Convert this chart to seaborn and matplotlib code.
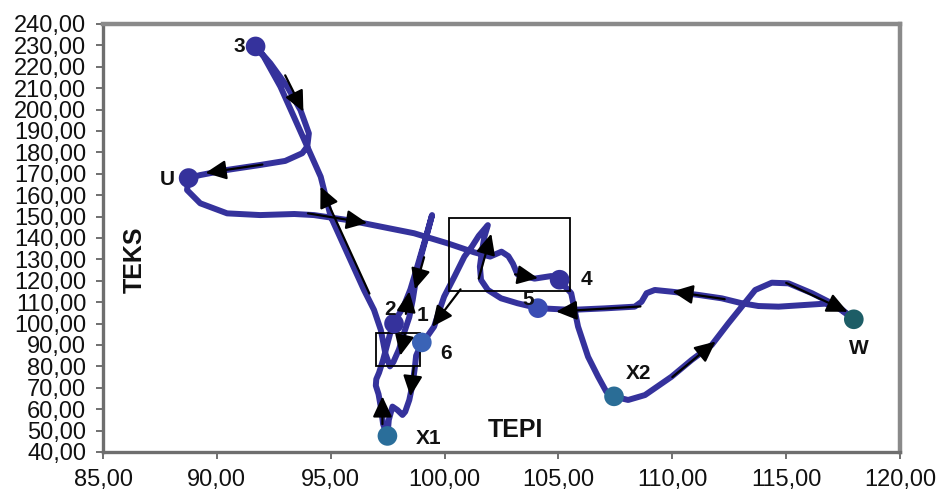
import matplotlib
matplotlib.use("Agg")
import matplotlib.pyplot as plt
import numpy as np
import pandas as pd
import seaborn as sns
from matplotlib.patches import Rectangle
from matplotlib.ticker import FuncFormatter

# ---------------- data ----------------
# trajectory, in time order (closed loop starting at X1)
path_tepi = [97.49, 97.30, 97.20, 97.10, 96.98, 97.00, 97.12, 97.30, 97.45, 97.60, 97.75,
             98.20, 98.50, 98.80, 99.10, 99.30, 99.45,
             99.20, 98.96, 98.74, 98.60, 98.45, 98.20, 98.00, 97.75, 97.60,
             97.40, 97.20, 96.90, 96.46, 95.73, 95.00, 94.56, 93.97, 93.38, 92.79, 92.06, 91.70,
             92.35, 93.09, 93.67, 94.04, 93.97, 93.75, 93.00, 91.90, 90.45, 89.27, 88.76,
             88.69, 89.27, 90.45, 91.90, 93.40, 94.26, 95.73, 97.20, 98.66, 100.13, 101.30,
             102.00, 102.50, 102.80, 103.00, 103.20, 103.95, 104.68, 105.05,
             105.56, 105.86, 106.30, 106.74, 107.10, 107.44,
             108.06, 108.80, 109.97, 110.85, 111.73, 112.46, 113.05, 113.64, 114.37, 115.10,
             116.13, 117.00, 117.97,
             117.30, 116.70, 115.80, 114.67, 113.78, 113.05, 112.17, 111.14, 109.97, 109.23,
             108.87, 108.65, 108.35, 107.03, 105.56, 104.10,
             103.20, 102.48, 101.90, 101.60, 101.55, 101.65, 101.75, 101.90,
             101.50, 101.20, 100.87, 100.43, 99.98, 99.75, 99.54, 99.18, 99.00,
             98.75, 98.70, 98.60, 98.45, 98.27, 98.15, 97.93, 97.71, 97.55, 97.49]
path_teks = [47.5, 53.0, 61.0, 67.0, 71.0, 74.0, 77.0, 83.0, 89.0, 95.0, 100.0,
             108.0, 116.0, 126.6, 137.5, 145.0, 150.7,
             140.6, 131.3, 120.4, 111.0, 103.0, 95.0, 88.0, 82.0, 80.0,
             86.0, 97.0, 106.4, 115.7, 132.8, 150.0, 168.6, 182.7, 196.7, 210.7, 224.7, 229.5,
             221.6, 210.7, 199.8, 188.9, 182.7, 179.6, 176.0, 174.1, 171.8, 169.4, 168.0,
             162.4, 156.2, 151.5, 150.7, 151.2, 150.7, 148.4, 145.3, 142.2, 137.5, 133.3,
             131.3, 133.6, 131.5, 128.0, 123.0, 121.0, 122.2, 120.0,
             114.2, 98.6, 84.5, 75.2, 68.2, 65.9,
             64.3, 66.6, 75.2, 83.0, 90.0, 100.1, 107.9, 115.7, 119.1, 118.8,
             114.2, 109.5, 102.0,
             107.9, 109.3, 108.7, 107.9, 108.2, 109.5, 111.8, 113.4, 114.9, 115.7,
             114.2, 110.2, 107.9, 107.1, 106.4, 107.2,
             109.5, 111.8, 115.7, 120.4, 126.6, 134.4, 140.6, 146.0,
             141.0, 136.0, 131.3, 121.9, 112.6, 105.5, 98.6, 93.1, 91.0,
             85.0, 80.0, 72.0, 64.3, 58.8, 57.3, 59.6, 61.2, 55.0, 47.5]

# labelled points
point_names = ["3", "U", "2", "4", "5", "6", "X1", "X2", "W"]
point_tepi = [91.70, 88.76, 97.78, 105.05, 104.10, 99.00, 97.49, 107.44, 117.97]
point_teks = [229.5, 168.0, 100.0, 120.5, 107.2, 91.2, 47.5, 66.0, 102.0]

# label texts and their positions
label_texts = ["3", "U", "2", "1", "6", "X1", "5", "4", "X2", "W"]
label_tepi = [91.00, 87.80, 97.62, 99.03, 100.06, 99.30, 103.69, 106.25, 108.50, 118.19]
label_teks = [229.4, 167.1, 106.4, 104.0, 86.1, 46.4, 111.4, 120.7, 76.8, 88.4]

# direction arrows (tail -> head)
arrow_tail_x = [93.00, 92.00, 96.70, 94.00, 99.10, 98.30, 100.70, 98.25, 98.65, 97.27,
                101.50, 103.10, 108.60, 112.30, 115.00, 110.00]
arrow_tail_y = [216.0, 174.3, 114.0, 151.5, 131.0, 104.5, 116.0, 95.0, 80.0, 53.0,
                121.0, 123.0, 108.0, 111.4, 119.0, 75.0]
arrow_head_x = [93.80, 89.50, 94.55, 96.60, 98.70, 98.45, 99.45, 98.05, 98.50, 97.27,
                102.05, 104.10, 104.90, 110.00, 117.70, 111.90]
arrow_head_y = [199.0, 170.4, 164.0, 147.0, 116.0, 115.0, 98.5, 85.0, 66.0, 66.0,
                142.0, 121.2, 105.6, 115.0, 105.5, 91.6]

# highlighted boxes: (x0, y0, x1, y1)
boxes = [(100.2, 115.0, 105.5, 149.5), (97.0, 80.0, 98.9, 95.8)]

x_ticks = [85, 90, 95, 100, 105, 110, 115, 120]
y_ticks = list(range(40, 250, 10))

# ---------------- styling ----------------
sns.set_theme(style="white")
plt.rcParams["font.family"] = ["Liberation Sans", "DejaVu Sans"]

line_color = "#35329c"
point_colors = {"3": "#35329c", "U": "#35329c", "2": "#35329c", "4": "#35329c",
                "5": "#3a4db4", "6": "#3a63b6", "X1": "#2a6e9a", "X2": "#2a6d96",
                "W": "#1d5d66"}

fig = plt.figure(figsize=(9.39, 4.90), dpi=100)
ax = fig.add_axes([0.1097, 0.0776, 0.8488, 0.8735])

df = pd.DataFrame({"TEPI": path_tepi, "TEKS": path_teks})
sns.lineplot(data=df, x="TEPI", y="TEKS", sort=False, estimator=None, ax=ax,
             color=line_color, linewidth=4.3, solid_capstyle="round",
             solid_joinstyle="round", zorder=2)

pts = pd.DataFrame({"name": point_names, "TEPI": point_tepi, "TEKS": point_teks})
sns.scatterplot(data=pts, x="TEPI", y="TEKS", hue="name", palette=point_colors,
                s=200, linewidth=0, legend=False, ax=ax, zorder=4)

for tx, ty, hx, hy in zip(arrow_tail_x, arrow_tail_y, arrow_head_x, arrow_head_y):
    ax.annotate("", xy=(hx, hy), xytext=(tx, ty),
                arrowprops=dict(arrowstyle="-|>,head_length=0.6,head_width=0.28",
                                color="black", lw=1.6, mutation_scale=21,
                                shrinkA=0, shrinkB=0), zorder=5)

for (x0, y0, x1, y1) in boxes:
    ax.add_patch(Rectangle((x0, y0), x1 - x0, y1 - y0, fill=False,
                           edgecolor="black", linewidth=1.3, zorder=3))

for t, x, y in zip(label_texts, label_tepi, label_teks):
    ax.text(x, y, t, fontsize=15, fontweight="bold", ha="center", va="center",
            color="#111111", zorder=6)

ax.text(86.41, 129.7, "TEKS", rotation=90, fontsize=18, fontweight="bold",
        ha="center", va="center", color="#111111")
ax.text(103.1, 50.3, "TEPI", fontsize=18, fontweight="bold",
        ha="center", va="center", color="#111111")

ax.set_xlim(85, 120)
ax.set_ylim(40, 240)
ax.set_xticks(x_ticks)
ax.set_yticks(y_ticks)
fmt = FuncFormatter(lambda v, p: f"{v:.2f}".replace(".", ","))
ax.xaxis.set_major_formatter(fmt)
ax.yaxis.set_major_formatter(fmt)
ax.set_xlabel("")
ax.set_ylabel("")
ax.tick_params(axis="both", direction="out", length=5, width=1.4, color="#707070",
               labelsize=17, pad=7, labelcolor="#111111",
               bottom=True, left=True)

for side in ["top", "right"]:
    ax.spines[side].set_color("#8a8a8a")
    ax.spines[side].set_linewidth(3.2)
for side in ["left", "bottom"]:
    ax.spines[side].set_color("#6e6e6e")
    ax.spines[side].set_linewidth(2.4)

fig.savefig("out.png", dpi=100, facecolor="white")
